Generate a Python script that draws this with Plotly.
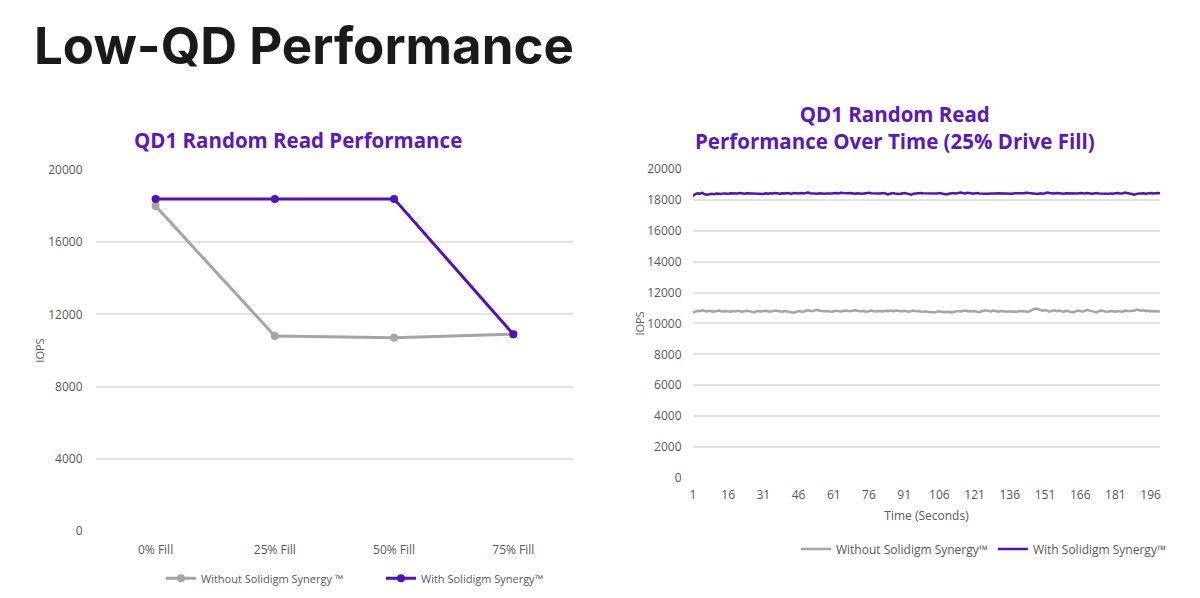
import plotly.graph_objects as go

# left chart: QD1 random read by drive fill
fill_levels = ['0% Fill', '25% Fill', '50% Fill', '75% Fill']
without_fill = [18000, 10800, 10700, 10900]
with_fill = [18400, 18400, 18400, 10900]

# right chart: QD1 random read over time (25% fill), one sample per second
seconds = list(range(1, 201))
without_time = [
    10700, 10780, 10820, 10790, 10850, 10800, 10780, 10820, 10790, 10760, 10800, 10830, 10790, 10770, 10810, 10790, 10760, 10800, 10780, 10820,
    10790, 10760, 10800, 10830, 10800, 10760, 10720, 10790, 10810, 10780, 10800, 10820, 10790, 10760, 10800, 10840, 10810, 10780, 10760, 10810,
    10790, 10760, 10720, 10700, 10750, 10800, 10780, 10760, 10820, 10860, 10830, 10800, 10850, 10880, 10830, 10800, 10790, 10810, 10780, 10760,
    10790, 10820, 10800, 10770, 10810, 10840, 10800, 10790, 10830, 10860, 10820, 10790, 10810, 10780, 10760, 10800, 10830, 10790, 10770, 10810,
    10800, 10780, 10820, 10800, 10830, 10790, 10810, 10840, 10800, 10780, 10820, 10790, 10760, 10800, 10830, 10790, 10810, 10780, 10760, 10790,
    10760, 10730, 10750, 10720, 10760, 10790, 10740, 10760, 10780, 10760, 10720, 10750, 10790, 10810, 10780, 10800, 10830, 10790, 10810, 10770,
    10800, 10760, 10730, 10790, 10820, 10850, 10800, 10780, 10830, 10790, 10760, 10800, 10780, 10740, 10760, 10790, 10760, 10780, 10760, 10800,
    10790, 10820, 10780, 10760, 10850, 10910, 10960, 10920, 10880, 10830, 10870, 10800, 10770, 10820, 10850, 10800, 10830, 10790, 10760, 10820,
    10800, 10760, 10720, 10780, 10830, 10800, 10760, 10820, 10880, 10830, 10790, 10760, 10720, 10800, 10840, 10800, 10760, 10780, 10810, 10790,
    10760, 10800, 10790, 10760, 10830, 10800, 10790, 10820, 10830, 10900, 10870, 10830, 10850, 10800, 10820, 10780, 10800, 10790, 10800, 10780,
]
with_time = [
    18250, 18380, 18420, 18400, 18450, 18360, 18330, 18390, 18400, 18370, 18410, 18400, 18380, 18420, 18410, 18390, 18430, 18410, 18400, 18420,
    18440, 18410, 18400, 18430, 18420, 18390, 18380, 18410, 18400, 18360, 18380, 18420, 18400, 18430, 18410, 18440, 18420, 18400, 18430, 18410,
    18450, 18420, 18400, 18440, 18430, 18410, 18450, 18420, 18440, 18470, 18430, 18410, 18420, 18400, 18430, 18410, 18390, 18420, 18400, 18410,
    18430, 18450, 18420, 18460, 18440, 18410, 18430, 18450, 18420, 18400, 18430, 18410, 18390, 18420, 18440, 18460, 18430, 18410, 18400, 18420,
    18410, 18440, 18420, 18360, 18400, 18450, 18420, 18400, 18380, 18410, 18440, 18420, 18360, 18330, 18400, 18420, 18410, 18440, 18430, 18420,
    18450, 18410, 18400, 18430, 18420, 18440, 18410, 18390, 18350, 18400, 18420, 18440, 18410, 18430, 18480, 18440, 18420, 18460, 18430, 18410,
    18420, 18440, 18410, 18400, 18430, 18410, 18390, 18420, 18400, 18410, 18430, 18420, 18400, 18430, 18410, 18380, 18400, 18430, 18420, 18440,
    18410, 18430, 18460, 18440, 18420, 18410, 18400, 18380, 18420, 18400, 18430, 18470, 18450, 18430, 18420, 18440, 18410, 18390, 18400, 18430,
    18420, 18410, 18430, 18400, 18420, 18440, 18430, 18410, 18450, 18420, 18400, 18420, 18440, 18410, 18400, 18430, 18410, 18390, 18420, 18400,
    18430, 18450, 18420, 18410, 18480, 18460, 18420, 18380, 18340, 18400, 18420, 18410, 18430, 18400, 18420, 18440, 18410, 18430, 18450, 18420,
]
time_ticks = list(range(1, 197, 15))

GRAY = '#a5a5a5'
PURPLE = '#5310bd'
TITLE_PURPLE = '#5c16c2'
TEXT = '#595959'
GRID = '#e3e3e3'
FONT = 'Open Sans, sans-serif'

fig = go.Figure()

fig.add_trace(go.Scatter(x=fill_levels, y=without_fill, name='Without Solidigm Synergy \u2122',
                         mode='lines+markers', line=dict(color=GRAY, width=3),
                         marker=dict(size=8, color=GRAY), legend='legend'))
fig.add_trace(go.Scatter(x=fill_levels, y=with_fill, name='With Solidigm Synergy\u2122',
                         mode='lines+markers', line=dict(color=PURPLE, width=3),
                         marker=dict(size=8, color=PURPLE), legend='legend'))

fig.add_trace(go.Scatter(x=seconds, y=without_time, name='Without Solidigm Synergy\u2122',
                         mode='lines', line=dict(color=GRAY, width=2.5),
                         xaxis='x2', yaxis='y2', legend='legend2'))
fig.add_trace(go.Scatter(x=seconds, y=with_time, name='With Solidigm Synergy\u2122',
                         mode='lines', line=dict(color=PURPLE, width=2.5),
                         xaxis='x2', yaxis='y2', legend='legend2'))

axis_font = dict(family=FONT, size=12, color=TEXT)

fig.update_layout(
    width=1200, height=598,
    margin=dict(l=0, r=0, t=0, b=0, autoexpand=False),
    paper_bgcolor='white', plot_bgcolor='white',
    font=dict(family=FONT, color=TEXT),
    showlegend=True,
    xaxis=dict(domain=[0.0733, 0.4708], range=[-0.5, 3.5], showgrid=False, zeroline=False, automargin=False,
               showline=False, tickfont=axis_font, ticks='outside', ticklen=8, tickcolor='white'),
    yaxis=dict(domain=[0.1254, 0.7291], range=[0, 20000], tickvals=[0, 4000, 8000, 12000, 16000, 20000],
               tickformat='d', showgrid=True, gridcolor=GRID, gridwidth=1.5, zeroline=False,
               tickfont=axis_font, automargin=False, ticks='outside', ticklen=10, tickcolor='white',
               title=dict(text='IOPS', font=dict(family=FONT, size=11, color=TEXT), standoff=1)),
    xaxis2=dict(domain=[0.5708, 0.96], range=[1, 200], tickvals=time_ticks, showgrid=False,
                zeroline=False, showline=False, tickfont=axis_font, anchor='y2', automargin=False,
                ticks='outside', ticklen=6, tickcolor='white',
                title=dict(text='Time (Seconds)', font=dict(family=FONT, size=12, color=TEXT), standoff=9)),
    yaxis2=dict(domain=[0.2141, 0.7308], range=[0, 20000], dtick=2000, tickformat='d', showgrid=True,
                gridcolor=GRID, gridwidth=1.5, zeroline=False, tickfont=axis_font, anchor='x2',
                automargin=False, ticks='outside', ticklen=8, tickcolor='white',
                title=dict(text='IOPS', font=dict(family=FONT, size=11, color=TEXT), standoff=0)),
    legend=dict(orientation='h', x=0.1275, y=0.0464, xanchor='left', yanchor='middle', entrywidth=175,
                font=dict(family=FONT, size=11, color=TEXT), itemwidth=30, bgcolor='rgba(0,0,0,0)'),
    legend2=dict(orientation='h', x=0.8133, y=0.0954, xanchor='center', yanchor='middle',
                 font=dict(family=FONT, size=12, color=TEXT), itemwidth=30, bgcolor='rgba(0,0,0,0)'),
    annotations=[
        dict(text='<b>Low-QD Performance</b>', x=0.0203, y=0.938, xref='paper', yref='paper',
             xanchor='left', yanchor='middle', showarrow=False,
             font=dict(family='Inter, sans-serif', size=51, color='#1a1a1a')),
        dict(text='<b>QD1 Random Read Performance</b>', x=0.2413, y=0.780, xref='paper', yref='paper',
             xanchor='center', yanchor='middle', showarrow=False,
             font=dict(family=FONT, size=20.5, color=TITLE_PURPLE)),
        dict(text='<b>QD1 Random Read<br>Performance Over Time (25% Drive Fill)</b>', x=0.7393, y=0.801,
             xref='paper', yref='paper', xanchor='center', yanchor='middle', showarrow=False,
             font=dict(family=FONT, size=20.5, color=TITLE_PURPLE)),
    ],
)

fig.write_html("out.html")
